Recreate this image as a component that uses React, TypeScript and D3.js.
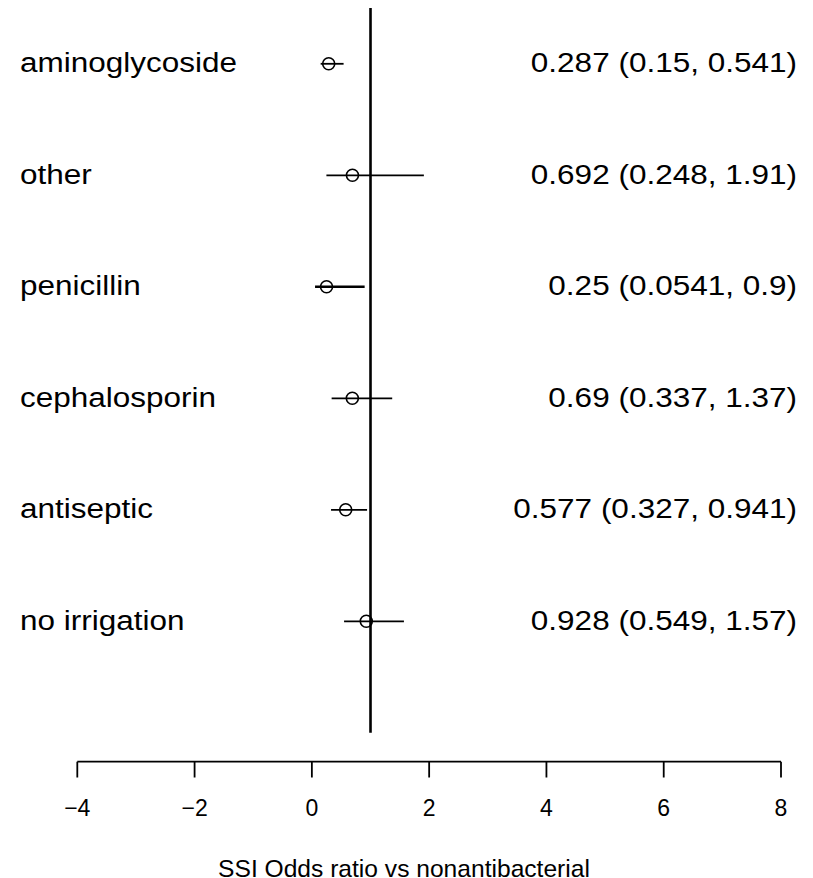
import React from "react";
import * as d3 from "d3";

const categories = ["aminoglycoside", "other", "penicillin", "cephalosporin", "antiseptic", "no irrigation"];
const estimates = [0.287, 0.692, 0.25, 0.69, 0.577, 0.928];
const lower = [0.15, 0.248, 0.0541, 0.337, 0.327, 0.549];
const upper = [0.541, 1.91, 0.9, 1.37, 0.941, 1.57];
const labels = ["0.287 (0.15, 0.541)", "0.692 (0.248, 1.91)", "0.25 (0.0541, 0.9)", "0.69 (0.337, 1.37)", "0.577 (0.327, 0.941)", "0.928 (0.549, 1.57)"];
const xTicks = [-4, -2, 0, 2, 4, 6, 8];
const refValue = 1;
const xTitle = "SSI Odds ratio vs nonantibacterial";

const W = 813, H = 878;
const FONT = "'Liberation Sans', Arial, sans-serif";
const ROW_FONT = 28;
const STRETCH = 1.125;

export default function App() {
  const x = d3.scaleLinear().domain([-4, 8]).range([77.3, 781]);
  const n = categories.length;
  // row position: bottom row = 1, top row = n
  const y = d3.scaleLinear().domain([1, n]).range([621.3, 63.8]);
  const rowPos = (i: number) => n - i;
  const fmt = (v: number) => (v < 0 ? "\u2212" + Math.abs(v) : String(v));
  return (
    <svg width={W} height={H} style={{ position: "absolute", left: 0, top: 0, background: "#fff" }} fontFamily={FONT}>
      <rect width={W} height={H} fill="#fff" />
      {/* reference line */}
      <line x1={x(refValue)} x2={x(refValue)} y1={y(n + 0.5)} y2={y(0)} stroke="#000" strokeWidth={2.6} />
      {categories.map((c, i) => {
        const yy = y(rowPos(i));
        const base = yy + 8.5;
        return (
          <g key={c}>
            <line x1={x(lower[i])} x2={x(upper[i])} y1={yy} y2={yy} stroke="#000" strokeWidth={c === "penicillin" ? 2.6 : 1.8} />
            <circle cx={x(estimates[i])} cy={yy} r={6} fill="none" stroke="#000" strokeWidth={1.6} />
            <text transform={`translate(20,${base}) scale(${STRETCH},1)`} fontSize={ROW_FONT} fill="#000">{c}</text>
            <text transform={`translate(797,${base}) scale(${STRETCH},1)`} fontSize={ROW_FONT} fill="#000" textAnchor="end">{labels[i]}</text>
          </g>
        );
      })}
      {/* axis */}
      <g>
        <line x1={x(-4)} x2={x(8)} y1={761.7} y2={761.7} stroke="#000" strokeWidth={1.8} />
        {xTicks.map((t) => (
          <g key={t}>
            <line x1={x(t)} x2={x(t)} y1={761.7} y2={777.5} stroke="#000" strokeWidth={1.8} />
            <text x={x(t)} y={808} dy="0.36em" fontSize={23} textAnchor="middle" fill="#000">{fmt(t)}</text>
          </g>
        ))}
      </g>
      <text x={404} y={876.5} fontSize={24.6} textAnchor="middle" fill="#000">{xTitle}</text>
    </svg>
  );
}
